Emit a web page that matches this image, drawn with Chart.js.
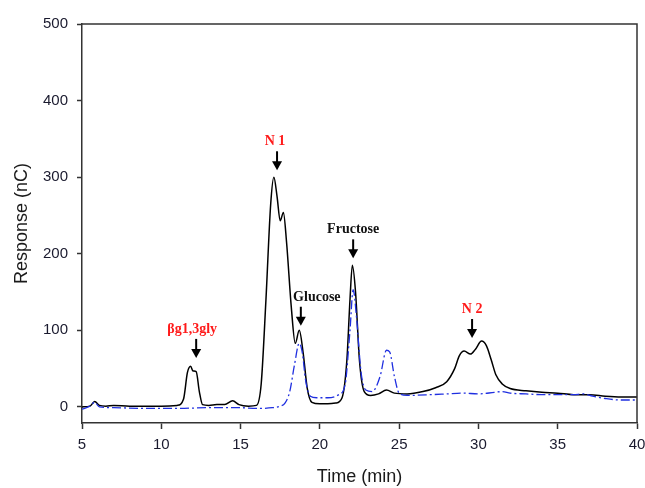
<!DOCTYPE html>
<html>
<head>
<meta charset="utf-8">
<script src="https://cdn.jsdelivr.net/npm/chart.js@4/dist/chart.umd.min.js"></script>
<style>
  html, body { margin: 0; padding: 0; background: #fff; }
  #wrap { width: 645px; height: 488px; }
</style>
</head>
<body>
<div id="wrap"><canvas id="chromChart" width="645" height="488"></canvas></div>
<script>
// クロマトグラムのデータ
const timeSample = [5, 5.5, 5.8, 6.1, 6.5, 7, 8, 9, 10, 11, 11.4, 11.65, 11.85, 12.0, 12.2, 12.4, 12.6, 13, 13.5, 14, 14.5, 14.9, 15.5, 16, 16.3, 16.6, 16.9, 17.1, 17.3, 17.5, 17.7, 17.9, 18.2, 18.45, 18.7, 18.95, 19.2, 19.5, 20, 20.5, 21, 21.4, 21.7, 21.9, 22.05, 22.25, 22.5, 22.8, 23.2, 23.7, 24.2, 24.7, 25.5, 26.5, 27.3, 28, 28.5, 28.8, 29.1, 29.5, 29.8, 30.2, 30.5, 30.8, 31.1, 31.5, 32, 33, 34, 35, 36, 37, 38, 39, 40];
const responseSample = [0, 1, 7, 2, 1, 2, 1, 1, 1, 2, 10, 45, 53, 47, 46, 20, 3, 2, 3, 3, 8, 3, 1, 2, 30, 140, 265, 300, 275, 243, 254, 215, 130, 83, 100, 70, 25, 6, 4, 4, 5, 12, 60, 140, 185, 150, 60, 20, 15, 17, 22, 18, 17, 20, 25, 33, 50, 67, 73, 69, 75, 86, 80, 62, 42, 30, 24, 21, 19, 18, 16, 16, 14, 13, 13];

const timeStandard = [5, 5.5, 5.8, 6.1, 7, 9, 11, 13, 15, 16, 17, 17.5, 17.8, 18.1, 18.4, 18.7, 18.9, 19.1, 19.4, 19.8, 20.5, 21.2, 21.6, 21.9, 22.1, 22.3, 22.6, 22.9, 23.3, 23.8, 24.2, 24.4, 24.7, 25, 25.5, 27, 28, 29, 30, 31, 31.5, 32, 33, 34, 35, 36, 36.6, 37.2, 38, 39, 40];
const responseStandard = [-3, 1, 6, 0, -1, -2, -2, -1, -1, -2, -1, 1, 5, 20, 55, 83, 70, 35, 14, 12, 12, 16, 30, 100, 153, 120, 45, 22, 20, 40, 74, 72, 40, 18, 15, 16, 17, 18, 17, 19, 20, 18, 17, 16, 16, 16, 17, 14, 11, 9, 9];

const xTicks = [5, 10, 15, 20, 25, 30, 35, 40];
const yTicks = [0, 100, 200, 300, 400, 500];

// ピークの注釈（矢印の先端の位置）
const peakLabels = ['βg1,3gly', 'N 1', 'Glucose', 'Fructose', 'N 2'];
const peakTime = [12.2, 17.3, 18.8, 22.1, 29.6];
const peakTip = [64, 309, 106, 194, 90];
const peakColors = ['#ff1a1a', '#ff1a1a', '#111111', '#111111', '#ff1a1a'];
const peakTextShift = [-4, -2, 16, 0, 0]; // 文字の横ずれ(px)

function toPoints(xs, ys) {
    return xs.map((x, i) => ({ x: x, y: ys[i] }));
}

// 枠線と注釈を描くプラグイン
const framePlugin = {
    id: 'frameAndPeaks',
    afterDatasetsDraw(chart) {
        const ctx = chart.ctx;
        const area = chart.chartArea;
        const xs = chart.scales.x;
        const ys = chart.scales.y;

        ctx.save();
        ctx.strokeStyle = '#333';
        ctx.lineWidth = 1.5;
        ctx.beginPath();
        ctx.moveTo(area.left, area.top);
        ctx.lineTo(area.right, area.top);
        ctx.lineTo(area.right, area.bottom);
        ctx.stroke();

        peakLabels.forEach((label, i) => {
            const px = xs.getPixelForValue(peakTime[i]);
            const tip = ys.getPixelForValue(peakTip[i]);
            // 矢印
            ctx.strokeStyle = '#000';
            ctx.fillStyle = '#000';
            ctx.lineWidth = 2;
            ctx.beginPath();
            ctx.moveTo(px, tip - 19);
            ctx.lineTo(px, tip - 7);
            ctx.stroke();
            ctx.beginPath();
            ctx.moveTo(px - 5, tip - 9);
            ctx.lineTo(px + 5, tip - 9);
            ctx.lineTo(px, tip);
            ctx.closePath();
            ctx.fill();
            // ラベル
            ctx.fillStyle = peakColors[i];
            ctx.font = 'bold 14px "Liberation Serif", serif';
            ctx.textAlign = 'center';
            ctx.textBaseline = 'alphabetic';
            ctx.fillText(label, px + peakTextShift[i], tip - 25);
        });
        ctx.restore();
    }
};

const ctx = document.getElementById('chromChart').getContext('2d');
new Chart(ctx, {
    type: 'line',
    data: {
        datasets: [{
            label: 'Standard',
            data: toPoints(timeStandard, responseStandard),
            borderColor: '#1f2fe0',
            borderWidth: 1.3,
            borderDash: [9, 3, 2, 3],
            pointRadius: 0,
            cubicInterpolationMode: 'monotone',
            fill: false
        }, {
            label: 'Sample',
            data: toPoints(timeSample, responseSample),
            borderColor: '#000',
            borderWidth: 1.5,
            pointRadius: 0,
            cubicInterpolationMode: 'monotone',
            fill: false
        }]
    },
    options: {
        responsive: false,
        animation: false,
        layout: { padding: { top: 24, right: 8, left: 0, bottom: 0 } },
        plugins: {
            legend: { display: false },
            tooltip: { enabled: false }
        },
        scales: {
            x: {
                type: 'linear',
                min: 5,
                max: 40,
                afterBuildTicks: axis => { axis.ticks = xTicks.map(v => ({ value: v })); },
                afterFit: axis => { axis.height = 65; axis.paddingLeft = 0; axis.paddingRight = 0; },
                grid: { drawOnChartArea: false, tickLength: 6, tickColor: '#333', tickWidth: 1.5 },
                border: { color: '#333', width: 1.5 },
                ticks: { color: '#1a1a2e', font: { family: '"Liberation Sans", Arial', size: 15 }, padding: 7, maxRotation: 0 },
                title: { display: true, text: 'Time (min)', color: '#1a1a1a', font: { family: '"Liberation Sans", Arial', size: 18 }, padding: { top: 4, bottom: 0 } }
            },
            y: {
                type: 'linear',
                min: -21,
                max: 500,
                afterBuildTicks: axis => { axis.ticks = yTicks.map(v => ({ value: v })); },
                afterFit: axis => { axis.width = 82; axis.paddingTop = 0; axis.paddingBottom = 0; },
                grid: { drawOnChartArea: false, tickLength: 5, tickColor: '#333', tickWidth: 1.5 },
                border: { color: '#333', width: 1.5 },
                ticks: { color: '#1a1a2e', font: { family: '"Liberation Sans", Arial', size: 15 }, padding: 9 },
                title: { display: true, text: 'Response (nC)', color: '#1a1a1a', font: { family: '"Liberation Sans", Arial', size: 18 }, padding: { top: 11, bottom: 4 } }
            }
        }
    },
    plugins: [framePlugin]
});
</script>
</body>
</html>
